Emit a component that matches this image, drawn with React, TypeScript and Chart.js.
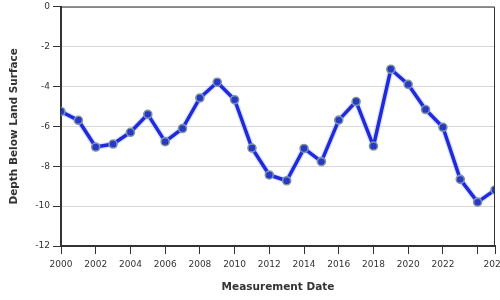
import React, { useEffect, useRef } from "react";
import { Chart, registerables } from "chart.js";

Chart.register(...registerables);

const years = [
  2000, 2001, 2002, 2003, 2004, 2005, 2006, 2007, 2008, 2009, 2010, 2011, 2012,
  2013, 2014, 2015, 2016, 2017, 2018, 2019, 2020, 2021, 2022, 2023, 2024, 2025,
];
const depths = [
  -5.26, -5.7, -7.04, -6.89, -6.3, -5.4, -6.77, -6.11, -4.58, -3.79, -4.67,
  -7.09, -8.44, -8.73, -7.11, -7.77, -5.69, -4.76, -6.99, -3.14, -3.9, -5.16,
  -6.05, -8.66, -9.8, -9.19,
];
const xTickValues = [2000, 2002, 2004, 2006, 2008, 2010, 2012, 2014, 2016, 2018, 2020, 2022, 2024, 2025];
const xTickLabelsHidden = [2024];
const yTitle = "Depth Below Land Surface";
const xTitle = "Measurement Date";

const FONT = "'DejaVu Sans', Verdana, sans-serif";
const TEXT = "#333333";

const framePlugin = {
  id: "frame",
  afterDraw(chart: any) {
    const { ctx, chartArea } = chart;
    ctx.save();
    ctx.strokeStyle = "#333333";
    ctx.lineWidth = 1;
    ctx.beginPath();
    ctx.moveTo(chartArea.left, chartArea.top + 0.5);
    ctx.lineTo(chartArea.right - 0.5, chartArea.top + 0.5);
    ctx.lineTo(chartArea.right - 0.5, chartArea.bottom);
    ctx.stroke();
    ctx.restore();
  },
};

export default function App() {
  const ref = useRef<HTMLCanvasElement | null>(null);

  useEffect(() => {
    if (!ref.current) return;
    const points = years.map((y, i) => ({ x: y, y: depths[i] }));
    const chart = new Chart(ref.current, {
      type: "line",
      data: {
        datasets: [
          {
            data: points,
            borderColor: "rgba(120,150,255,0.28)",
            borderWidth: 6,
            borderJoinStyle: "round",
            pointRadius: 0,
            pointHoverRadius: 0,
            tension: 0,
            fill: false,
          },
          {
            data: points,
            borderColor: "#0000cc",
            borderWidth: 3.5,
            borderJoinStyle: "round",
            pointRadius: 4,
            pointBackgroundColor: "#0a14b4",
            pointBorderColor: "#7f9494",
            pointBorderWidth: 1.6,
            tension: 0,
            fill: false,
          },
        ],
      },
      options: {
        animation: false,
        responsive: true,
        maintainAspectRatio: false,
        layout: { padding: { left: 0, right: 25, top: 4, bottom: 0 } },
        plugins: { legend: { display: false }, tooltip: { enabled: false } },
        scales: {
          x: {
            type: "linear",
            min: 2000,
            max: 2025,
            afterBuildTicks: (scale: any) => {
              scale.ticks = xTickValues.map((v) => ({ value: v }));
            },
            afterFit: (scale: any) => {
              scale.height = 54;
            },
            ticks: {
              autoSkip: false,
              maxRotation: 0,
              padding: 5,
              color: TEXT,
              font: { family: FONT, size: 9 },
              callback: (v: any) => (xTickLabelsHidden.includes(Number(v)) ? "" : String(v)),
            },
            grid: {
              drawOnChartArea: false,
              drawTicks: true,
              tickLength: 8,
              color: "#333333",
              lineWidth: 1,
            },
            border: { display: true, color: "#333333", width: 2 },
            title: {
              display: true,
              text: xTitle,
              color: TEXT,
              font: { family: FONT, size: 10.5, weight: "bold" },
              padding: { top: 0, bottom: 6 },
            },
          },
          y: {
            min: -12,
            max: 0,
            afterBuildTicks: (scale: any) => {
              const t = [];
              for (let v = -12; v <= 0; v += 2) t.push({ value: v });
              scale.ticks = t;
            },
            afterFit: (scale: any) => {
              scale.width = 61;
            },
            ticks: {
              padding: 3,
              color: TEXT,
              font: { family: FONT, size: 9, lineHeight: 0.8 },
            },
            grid: {
              drawOnChartArea: true,
              drawTicks: true,
              tickLength: 8,
              color: "#d9d9d9",
              tickColor: "#333333",
              lineWidth: 1,
            },
            border: { display: true, color: "#333333", width: 2 },
            title: {
              display: true,
              text: yTitle,
              color: TEXT,
              font: { family: FONT, size: 10.5, weight: "bold" },
              padding: { top: 7.5, bottom: 0 },
            },
          },
        },
      },
      plugins: [framePlugin],
    });
    return () => chart.destroy();
  }, []);

  return (
    <div
      style={{
        position: "fixed",
        left: 0,
        top: 0,
        width: 500,
        height: 300,
        overflow: "hidden",
        background: "#ffffff",
      }}
    >
      <div style={{ position: "relative", width: 520, height: 300 }}>
        <canvas ref={ref} />
      </div>
    </div>
  );
}
